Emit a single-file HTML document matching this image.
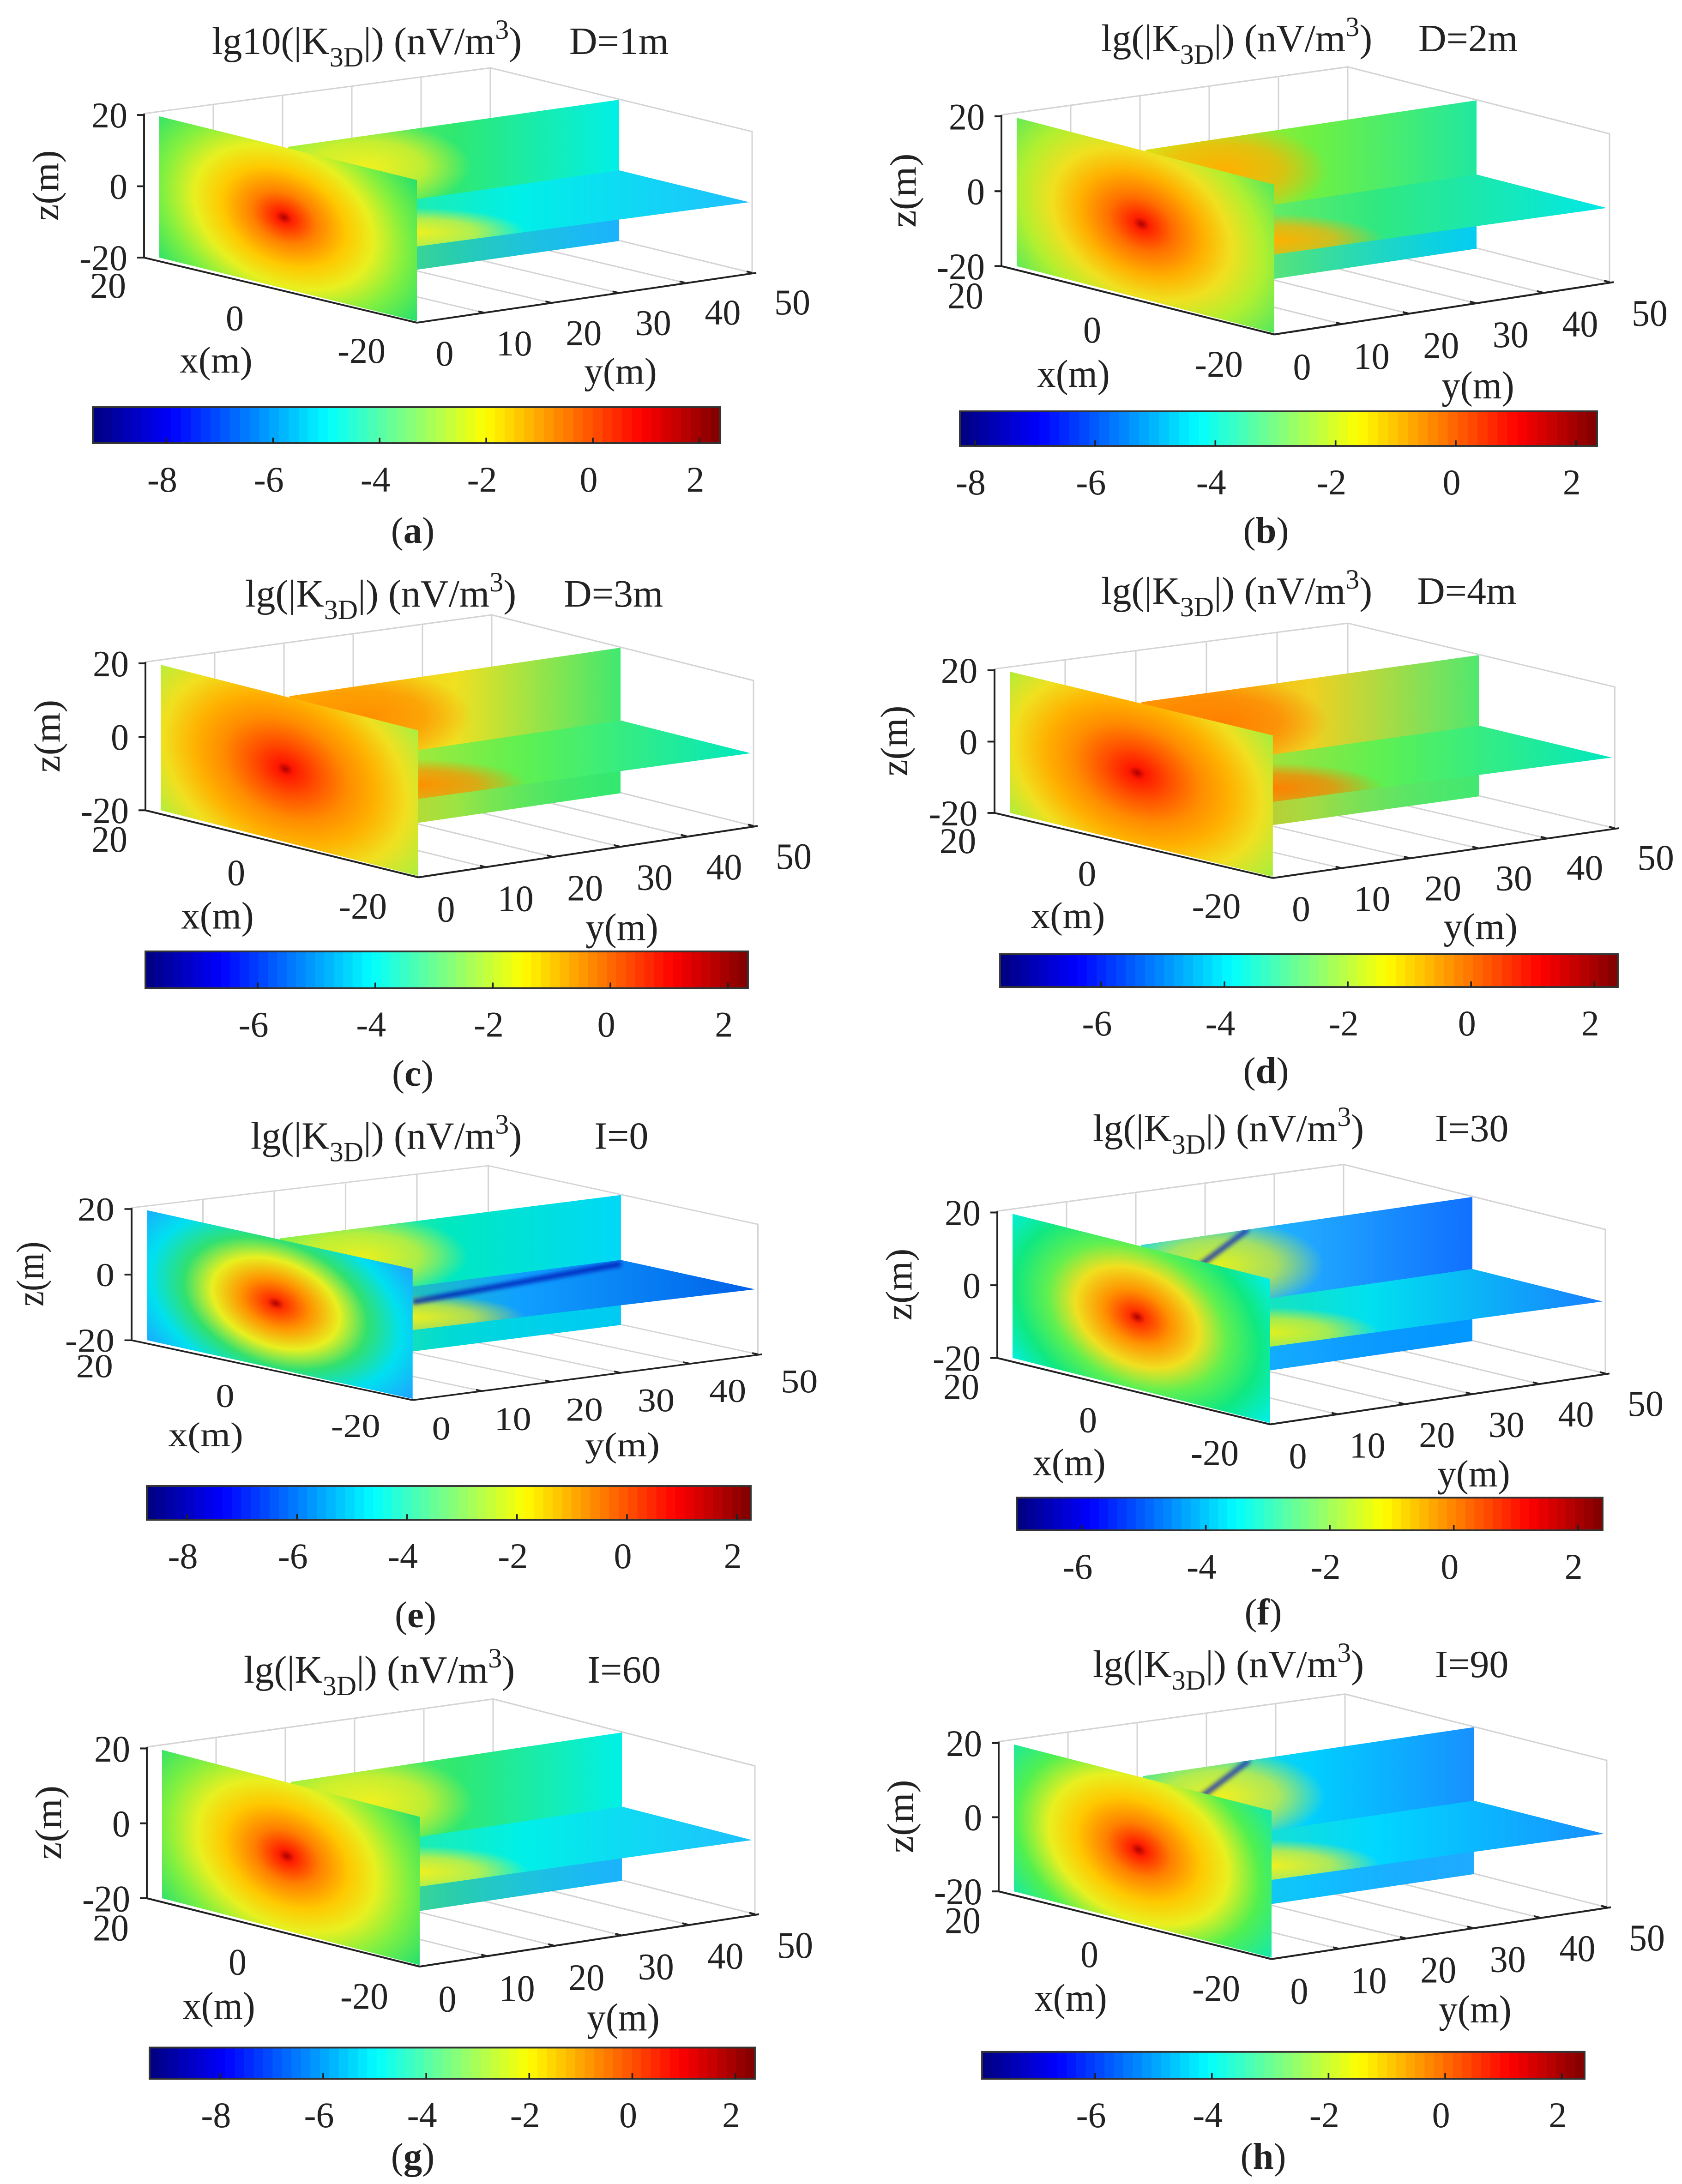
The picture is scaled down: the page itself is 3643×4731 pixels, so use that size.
<!DOCTYPE html>
<html><head><meta charset="utf-8">
<style>
html,body{margin:0;padding:0;background:#fff;}
svg{display:block;}
text{font-family:"Liberation Serif",serif;fill:#222;}
</style></head>
<body>
<svg id="fig" width="3643" height="4731" viewBox="0 0 1214.33 1577" xmlns="http://www.w3.org/2000/svg" font-family="Liberation Serif, serif">
<defs id="defs"></defs>
<g id="root"></g>
</svg>
<script>
// ---- data arrays (top level) ----
const panelLabels = ["a","b","c","d","e","f","g","h"];
const panelParams = ["D=1m","D=2m","D=3m","D=4m","I=0","I=30","I=60","I=90"];
const cbMin = [-9.38,-8.25,-7.91,-7.64,-8.73,-7.05,-9.37,-7.94];
const cbMax = [2.39,2.35,2.34,2.38,2.25,2.40,2.38,2.39];
const cbTicksA = [-8,-6,-4,-2,0,2];
const cbTicksC = [-6,-4,-2,0,2];
const cbTicks = [cbTicksA,cbTicksA,cbTicksC,cbTicksC,cbTicksA,cbTicksC,cbTicksA,cbTicksC];
const zTicks = [20,0,-20];
const xTicks = [20,0,-20];
const yTicks = [0,10,20,30,40,50];

// ---- layout (not data) ----
const boxT = [[104,83,1,1],[723,84,1,1.05],[105,479,1,1.03],[718,484,1.02,1.0],
              [95,873,1.03,0.92],[720,875.5,1,1.02],[106,1262.5,1,1.05],[721,1258.6,1,1.04]];
const cbBox = [[67,294,520,320],[693,297,1153,322],[105,687,540,713.5],[722,689,1168,712.7],
               [106,1073,542,1097.4],[734,1081.4,1157,1105],[108,1478.5,545,1501],[709,1481.6,1144,1501]];
const titlePos = [[153,39,411],[795,37,1024],[177,438,407],[795,436,1023],[181,829.5,429],[789,824,1036],[176,1215,424],[789,1211,1036]];
const labelPos = [[298,392],[914,392],[298,784],[914,782],[300,1175],[912,1173],[298,1566],[912,1566]];
const front = [
 ["#b00000","#ff2000","#ff8000","#ffc800","#e8f020","#80f040","#20e070"],
 ["#b00000","#ff2000","#ff7000","#ffb000","#f0e020","#b0f030","#50e860"],
 ["#b00000","#ff1800","#ff5000","#ff8c00","#ffb000","#f0e020","#a8f040"],
 ["#b00000","#ff1800","#ff5000","#ff8c00","#ffb000","#f0e020","#a0f040"],
 ["#b00000","#ff3000","#ff9000","#e8f020","#30e070","#00e0f0","#20a0ff"],
 ["#b00000","#ff3000","#ff9000","#f0e020","#60f050","#10e880","#00f0f0"],
 ["#b00000","#ff2000","#ff8000","#ffc800","#e8f020","#80f040","#20e070"],
 ["#b00000","#ff2000","#ff8000","#ffc800","#e8f020","#50f050","#10e8b0"]];
const back = [["#90f040","#30e870","#00f0e8"],["#d0f020","#70f040","#20e8a0"],["#ffb000","#f0e020","#40e870"],
              ["#ff9800","#f0d020","#50e870"],["#70f050","#00e8c0","#00d8f8"],["#00d8ff","#20a8ff","#1070ff"],
              ["#90f040","#30e870","#00f0e8"],["#30e8a0","#00d0ff","#1890ff"]];
const horiz = [["#40e870","#00f0e8","#20c0ff"],["#a0f040","#30e880","#00e8e8"],["#f0e020","#60f050","#00e8c0"],
               ["#f0d020","#60f050","#00e8c0"],["#30e870","#10a0ff","#0060e8"],["#30e880","#00e0f0","#1880ff"],
               ["#40e870","#00f0e8","#20c0ff"],["#30e8a0","#00d8ff","#1890ff"]];
const lobe = ["#f0f020","#ffb000","#ff9000","#ff8000","#e8f020","#e0f020","#f0f020","#f0f020"];
const lowBack = ["#20a8ff","#00c8ff","#30e870","#40e870","#00c8f0","#00a0ff","#20a8ff","#20b0ff"];
const streak = [null,null,null,null,"h","b",null,"b"];

function jet(t){
  const c=v=>Math.max(0,Math.min(1,v));
  const r=c(1.5-Math.abs(4*t-3)), g=c(1.5-Math.abs(4*t-2)), b=c(1.5-Math.abs(4*t-1));
  return `rgb(${Math.round(r*255)},${Math.round(g*255)},${Math.round(b*255)})`;
}
const defs=document.getElementById('defs');
const root=document.getElementById('root');
let dh='<filter id="soft" x="-20%" y="-20%" width="140%" height="140%"><feGaussianBlur stdDeviation="1.5"/></filter>', out='';
function P(pts){return pts.map(p=>p[0]+','+p[1]).join(' ');}

for(let i=0;i<8;i++){
  const L=panelLabels[i];
  const [ox,oy,sx,sy]=boxT[i];
  const fs=front[i], off=[0,0.05,0.2,0.38,0.55,0.75,1];
  const cx=205, cy=157;
  dh+=`<radialGradient id="fr${i}" gradientUnits="userSpaceOnUse" cx="${cx}" cy="${cy}" r="125" gradientTransform="translate(${cx} ${cy}) rotate(28) scale(1 0.68) translate(${-cx} ${-cy})">`+
      fs.map((c,k)=>`<stop offset="${off[k]}" stop-color="${c}"/>`).join('')+`</radialGradient>`;
  dh+=`<linearGradient id="bk${i}" x1="0" y1="0" x2="1" y2="0">`+back[i].map((c,k)=>`<stop offset="${k/2}" stop-color="${c}"/>`).join('')+`</linearGradient>`;
  dh+=`<linearGradient id="hz${i}" x1="0" y1="0" x2="1" y2="0">`+horiz[i].map((c,k)=>`<stop offset="${k/2}" stop-color="${c}"/>`).join('')+`</linearGradient>`;
  dh+=`<radialGradient id="lb${i}"><stop offset="0" stop-color="${lobe[i]}"/><stop offset="0.55" stop-color="${lobe[i]}" stop-opacity="0.7"/><stop offset="1" stop-color="${lobe[i]}" stop-opacity="0"/></radialGradient>`;
  dh+=`<linearGradient id="lw${i}" x1="0" y1="0" x2="1" y2="0"><stop offset="0" stop-color="${lowBack[i]}" stop-opacity="0"/><stop offset="1" stop-color="${lowBack[i]}"/></linearGradient>`;
  const hzPts=[[208,157],[447,123],[541,146],[301,178]];
  dh+=`<clipPath id="hc${i}"><polygon points="${P(hzPts)}"/></clipPath>`;
  const bkPts=[[208,106],[447,72],[447,174],[208,208]];
  dh+=`<clipPath id="bc${i}"><polygon points="${P(bkPts)}"/></clipPath>`;

  let g=`<g>`;
  const [tx,ty,tx2]=titlePos[i];
  const fn = i===0?'lg10':'lg';
  g+=`<text x="${tx}" y="${ty}" font-size="28">${fn}(|K<tspan font-size="20" dy="9">3D</tspan><tspan dy="-9">|) (nV/m</tspan><tspan font-size="20" dy="-11">3</tspan><tspan dy="11">)</tspan></text>`;
  g+=`<text x="${tx2}" y="${ty}" font-size="28">${panelParams[i]}</text>`;

  g+=`<g transform="translate(${ox} ${oy}) scale(${sx} ${sy}) translate(-104 -83)">`;
  const gl='stroke="#d4d4d4" stroke-width="1" fill="none"';
  g+=`<g>`;
  g+=`<polyline ${gl} points="${P([[104,82],[354,49],[543,95],[543,197]])}"/>`;
  for(let k=1;k<=5;k++){const t=k/5;const x=104+250*t,y=82-33*t;g+=`<line ${gl} x1="${x}" y1="${y}" x2="${x}" y2="${y+102}"/>`;}
  for(let k=1;k<=4;k++){const t=k/5;const x=301+242*t,y=233-36*t;g+=`<line ${gl} x1="${x}" y1="${y}" x2="${x-190}" y2="${y-45}"/>`;}
  g+=`<line ${gl} x1="354" y1="151" x2="543" y2="197"/>`;
  g+=`</g>`;
  g+=`<polygon points="${P(bkPts)}" fill="url(#bk${i})"/>`;
  g+=`<g clip-path="url(#bc${i})"><ellipse cx="265" cy="120" rx="75" ry="32" fill="url(#lb${i})"/>`+
     `<polygon points="${P([[208,160],[447,128],[447,174],[208,208]])}" fill="url(#lw${i})" opacity="0.85"/>`;
  if(streak[i]==='b') g+=`<line x1="285" y1="95" x2="248" y2="122" stroke="#0820c0" stroke-width="3.5" opacity="0.85" filter="url(#soft)"/>`;
  g+=`</g>`;
  g+=`<polygon points="${P(hzPts)}" fill="url(#hz${i})"/>`;
  g+=`<g clip-path="url(#hc${i})"><ellipse cx="300" cy="168" rx="80" ry="18" fill="url(#lb${i})"/>`;
  if(streak[i]==='h') g+=`<line x1="301" y1="156" x2="447" y2="126" stroke="#0010b0" stroke-width="4" opacity="0.8" filter="url(#soft)"/>`;
  g+=`</g>`;
  g+=`<polygon points="${P([[115,84],[301,130],[301,232],[115,186]])}" fill="url(#fr${i})"/>`;
  const ax='stroke="#222" stroke-width="1.3" fill="none"';
  g+=`<g>`;
  g+=`<line ${ax} x1="104" y1="82" x2="104" y2="186"/>`;
  g+=`<line ${ax} x1="104" y1="186" x2="301" y2="233"/>`;
  g+=`<line ${ax} x1="301" y1="233" x2="546" y2="197"/>`;
  zTicks.forEach(v=>{const y=83+103*(20-v)/40;
    g+=`<line ${ax} x1="99" y1="${y}" x2="104" y2="${y}"/>`;
    g+=`<text x="92" y="${y+9}" font-size="26" text-anchor="end">${v}</text>`;});
  g+=`<text transform="translate(42,134) rotate(-90)" font-size="27" text-anchor="middle">z(m)</text>`;
  xTicks.forEach(v=>{const t=(20-v)/40; const x=78+183*t, y=206+47*t;
    g+=`<text x="${x}" y="${y+9}" font-size="26" text-anchor="middle">${v}</text>`;});
  g+=`<text x="156" y="269" font-size="27" text-anchor="middle">x(m)</text>`;
  yTicks.forEach(v=>{const t=v/50; const x=301+242*t,y=233-36*t;
    g+=`<line ${ax} x1="${x}" y1="${y}" x2="${x-4}" y2="${y-1}"/>`;
    g+=`<text x="${321+251*t}" y="${255-37*t+9}" font-size="26" text-anchor="middle">${v}</text>`;});
  g+=`<text x="448" y="277" font-size="27" text-anchor="middle">y(m)</text>`;
  g+=`</g></g>`;

  const [x0,y0,x1,y1]=cbBox[i];
  g+=`<g>`;
  const N=64,w=(x1-x0)/N;
  for(let k=0;k<N;k++){g+=`<rect x="${x0+k*w}" y="${y0}" width="${w+0.4}" height="${y1-y0}" fill="${jet((k+0.5)/N)}"/>`;}
  g+=`<rect x="${x0}" y="${y0}" width="${x1-x0}" height="${y1-y0}" fill="none" stroke="#333" stroke-width="1.3"/>`;
  const sc=v=>x0+(v-cbMin[i])/(cbMax[i]-cbMin[i])*(x1-x0);
  cbTicks[i].forEach(v=>{const x=sc(v);
    g+=`<line x1="${x}" y1="${y1}" x2="${x}" y2="${y1-4}" stroke="#222" stroke-width="1.2"/>`;
    g+=`<text x="${x-3}" y="${y1+35}" font-size="26" text-anchor="middle">${v}</text>`;});
  g+=`</g>`;
  g+=`<text x="${labelPos[i][0]}" y="${labelPos[i][1]}" font-size="27" text-anchor="middle">(<tspan font-weight="bold">${L}</tspan>)</text>`;
  g+=`</g>`;
  out+=g;
}
defs.innerHTML=dh;
root.innerHTML=out;
</script>
</body></html>
